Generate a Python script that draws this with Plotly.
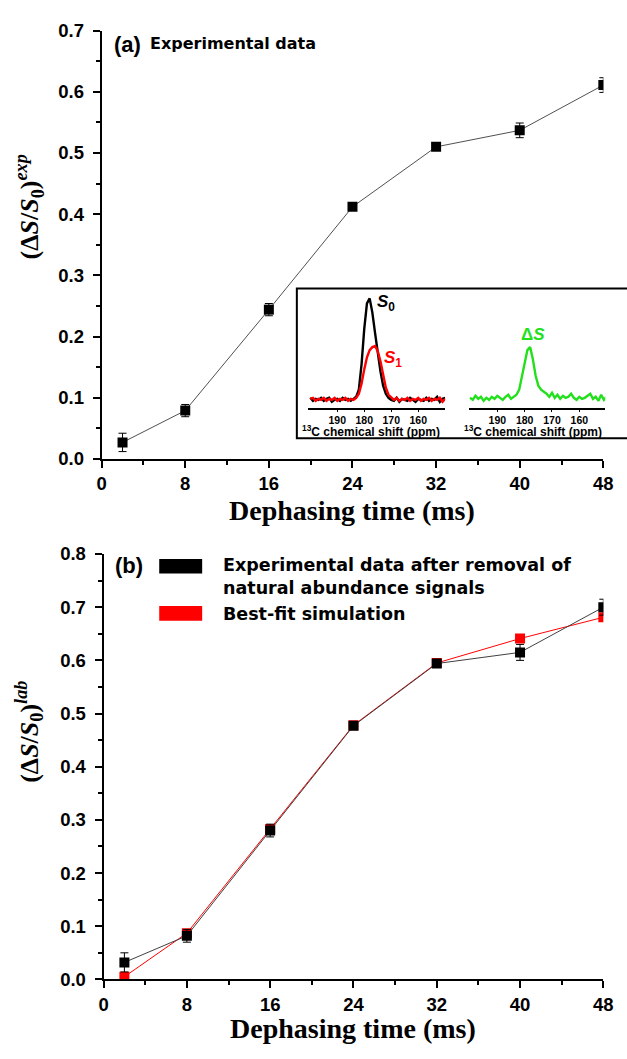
import plotly.graph_objects as go

W, H = 627, 1059

# ---------------- data ----------------
time_ms = [2, 8, 16, 24, 32, 40, 48]
exp_val = [0.027, 0.079, 0.244, 0.412, 0.510, 0.537, 0.611]
exp_err = [0.015, 0.010, 0.010, 0.005, 0.005, 0.012, 0.012]

lab_val = [0.032, 0.082, 0.280, 0.477, 0.594, 0.615, 0.700]
lab_err = [0.018, 0.012, 0.012, 0.007, 0.007, 0.015, 0.015]
fit_val = [0.005, 0.087, 0.283, 0.478, 0.595, 0.641, 0.681]

x_ticks = [0, 8, 16, 24, 32, 40, 48]

ppm = [200, 199, 198, 197, 196, 195, 194, 193, 192, 191, 190, 189, 188, 187, 186,
       185, 184, 183, 182, 181, 180, 179, 178, 177, 176, 175, 174, 173, 172, 171,
       170, 169, 168, 167, 166, 165, 164, 163, 162, 161, 160, 159, 158, 157, 156,
       155, 154, 153, 152, 151, 150]
s0 = [0.02, -0.01, 0.01, 0.00, 0.02, -0.01, 0.01, 0.02, -0.02, 0.00, 0.01, -0.01,
      0.02, 0.00, 0.01, -0.01, 0.01, 0.03, 0.10, 0.35, 0.70, 0.95, 1.00, 0.86,
      0.66, 0.46, 0.28, 0.14, 0.06, 0.02, 0.00, -0.01, 0.02, -0.02, 0.01, 0.00,
      -0.01, 0.02, 0.00, -0.02, 0.01, 0.00, -0.01, 0.02, -0.01, 0.01, 0.00, 0.03,
      -0.02, 0.01, 0.02]
s1 = [0.01, 0.02, -0.01, 0.01, 0.00, 0.02, -0.01, 0.01, 0.00, 0.02, -0.01, 0.01,
      0.00, 0.02, -0.01, 0.01, 0.00, 0.02, 0.06, 0.16, 0.30, 0.42, 0.49, 0.52,
      0.53, 0.48, 0.38, 0.24, 0.12, 0.05, 0.02, 0.00, 0.02, -0.01, 0.01, 0.00,
      0.02, -0.01, 0.01, 0.00, 0.02, -0.01, 0.01, 0.00, 0.02, -0.01, 0.01, 0.00,
      0.02, -0.02, 0.01]
ds = [0.02, 0.00, 0.04, 0.01, 0.03, -0.01, 0.02, 0.00, 0.03, 0.01, 0.04, 0.02,
      0.00, 0.03, 0.05, 0.01, 0.03, 0.05, 0.10, 0.24, 0.38, 0.49, 0.52, 0.40,
      0.24, 0.14, 0.10, 0.08, 0.06, 0.03, 0.07, 0.02, 0.05, 0.01, 0.04, 0.02,
      0.03, 0.06, 0.02, 0.00, 0.03, 0.01, 0.02, 0.04, 0.06, 0.01, 0.03, -0.01,
      0.05, 0.00, 0.03]
inset_ticks = [190, 180, 170, 160]


def px(x):
    return x / W


def py(y):
    return 1 - y / H


SANS = "Arial, Liberation Sans, sans-serif"
WIDE = "DejaVu Sans, sans-serif"
SERIF = "Times New Roman, Liberation Serif, serif"
GREEN = "#22e01c"

fig = go.Figure()

# ---- top panel ----
fig.add_trace(go.Scatter(
    x=time_ms, y=exp_val, mode="lines+markers",
    line=dict(color="#505050", width=1),
    marker=dict(symbol="square", size=10, color="black"),
    error_y=dict(type="data", array=exp_err, color="black", thickness=1, width=4),
    xaxis="x", yaxis="y", showlegend=False))

# ---- bottom panel ----
fig.add_trace(go.Scatter(
    x=time_ms, y=fit_val, mode="lines+markers",
    line=dict(color="red", width=1),
    marker=dict(symbol="square", size=10, color="red"),
    xaxis="x2", yaxis="y2", showlegend=False))
fig.add_trace(go.Scatter(
    x=time_ms, y=lab_val, mode="lines+markers",
    line=dict(color="#404040", width=1),
    marker=dict(symbol="square", size=10, color="black"),
    error_y=dict(type="data", array=lab_err, color="black", thickness=1, width=4),
    xaxis="x2", yaxis="y2", showlegend=False))

# ---- inset spectra ----
fig.add_trace(go.Scatter(x=ppm, y=s0, mode="lines", line=dict(color="black", width=2.4),
                         xaxis="x3", yaxis="y3", showlegend=False))
fig.add_trace(go.Scatter(x=ppm, y=s1, mode="lines", line=dict(color="red", width=2.4),
                         xaxis="x3", yaxis="y3", showlegend=False))
fig.add_trace(go.Scatter(x=ppm, y=ds, mode="lines", line=dict(color=GREEN, width=2.4),
                         xaxis="x4", yaxis="y4", showlegend=False))

main_axis = dict(showline=True, linecolor="black", linewidth=2, ticks="outside",
                 ticklen=7, tickwidth=2, tickcolor="black", showgrid=False,
                 zeroline=False, mirror=False,
                 tickfont=dict(family=SANS, size=18.5, color="black", weight="bold"))
xminor = dict(dtick=4, tick0=0, ticks="outside", ticklen=4, tickwidth=2, tickcolor="black")
yminor = dict(dtick=0.05, tick0=0, ticks="outside", ticklen=4, tickwidth=2, tickcolor="black")

fig.update_layout(
    width=W, height=H, margin=dict(l=0, r=0, t=0, b=0),
    paper_bgcolor="white", plot_bgcolor="white",
    xaxis=dict(domain=[px(99), px(613)], range=[0, 48], tickvals=x_ticks,
               minor=xminor, anchor="y", **main_axis),
    yaxis=dict(domain=[py(457), py(20)], range=[0, 0.7], dtick=0.1, tickformat=".1f",
               minor=yminor, anchor="x", ticklabelstandoff=5, **main_axis),
    xaxis2=dict(domain=[px(101), px(613)], range=[0, 48], tickvals=x_ticks,
                minor=xminor, anchor="y2", **main_axis),
    yaxis2=dict(domain=[py(988), py(554)], range=[0, 0.8], dtick=0.1, tickformat=".1f",
                minor=yminor, anchor="x2", ticklabelstandoff=5, **main_axis),
)

inset_x = dict(showline=True, linecolor="black", linewidth=1.5, ticks="outside",
               ticklen=2, tickwidth=1, tickcolor="black", showgrid=False, zeroline=False,
               tickvals=inset_ticks,
               tickfont=dict(family=SANS, size=10.5, color="black", weight="bold"))
inset_y = dict(visible=False, range=[-0.08, 1.05], showgrid=False, zeroline=False)

fig.update_layout(
    xaxis3=dict(domain=[px(310), px(451)], range=[201, 150], anchor="y3", **inset_x),
    yaxis3=dict(domain=[py(405), py(288)], anchor="x3", **inset_y),
    xaxis4=dict(domain=[px(475), px(615)], range=[200.5, 150.5], anchor="y4", **inset_x),
    yaxis4=dict(domain=[py(405), py(288)], anchor="x4", **inset_y),
)

shapes = [
    # inset box
    dict(type="rect", xref="paper", yref="paper", x0=px(299), x1=px(640),
         y0=py(436), y1=py(283), line=dict(color="black", width=2), fillcolor="rgba(0,0,0,0)",
         layer="below"),
    # legend swatches
    dict(type="rect", xref="paper", yref="paper", x0=px(158), x1=px(202),
         y0=py(574), y1=py(559), line=dict(width=0), fillcolor="black"),
    dict(type="rect", xref="paper", yref="paper", x0=px(158), x1=px(202),
         y0=py(622), y1=py(607), line=dict(width=0), fillcolor="red"),
]
fig.update_layout(shapes=shapes)


def ann(text, x, y, size, family=SANS, color="black", xanchor="center", angle=0, align="center"):
    return dict(text=text, x=px(x), y=py(y), xref="paper", yref="paper", showarrow=False,
                xanchor=xanchor, yanchor="middle", textangle=angle, align=align,
                font=dict(family=family, size=size, color=color))


annotations = [
    ann("<b>(a)</b>", 110, 34, 22, xanchor="left"),
    ann("<b>Experimental data</b>", 147, 33, 16, family=WIDE, xanchor="left"),
    ann("<b>(b)</b>", 111, 566, 22, xanchor="left"),
    ann("<b>Experimental data after removal of<br>natural abundance signals</b>", 221, 577, 17.5,
        family=WIDE, xanchor="left", align="left"),
    ann("<b>Best-fit simulation</b>", 221, 615, 17.5, family=WIDE, xanchor="left"),
    ann("<b>Dephasing time (ms)</b>", 355, 510, 28, family=SERIF),
    ann("<b>Dephasing time (ms)</b>", 357, 1038, 28, family=SERIF),
    ann("<b>(Δ<i>S</i>/<i>S</i><sub>0</sub>)<sup><i>exp</i></sup></b>", 25, 200, 26, family=SERIF, angle=-90),
    ann("<b>(Δ<i>S</i>/<i>S</i><sub>0</sub>)<sup><i>lab</i></sup></b>", 25, 735, 26, family=SERIF, angle=-90),
    ann("<b><sup>13</sup>C chemical shift (ppm)</b>", 375, 428, 12),
    ann("<b><sup>13</sup>C chemical shift (ppm)</b>", 541, 428, 12),
    ann("<b><i>S</i><sub>0</sub></b>", 390, 298, 17),
    ann("<b><i>S</i><sub>1</sub></b>", 398, 355, 17, color="red"),
    ann("<b>Δ<i>S</i></b>", 541, 330, 17, color=GREEN),
]
fig.update_layout(annotations=annotations)

fig.write_html("out.html", config={"displayModeBar": False},
               post_script="document.body.style.margin='0px';document.body.style.overflow='hidden';")
